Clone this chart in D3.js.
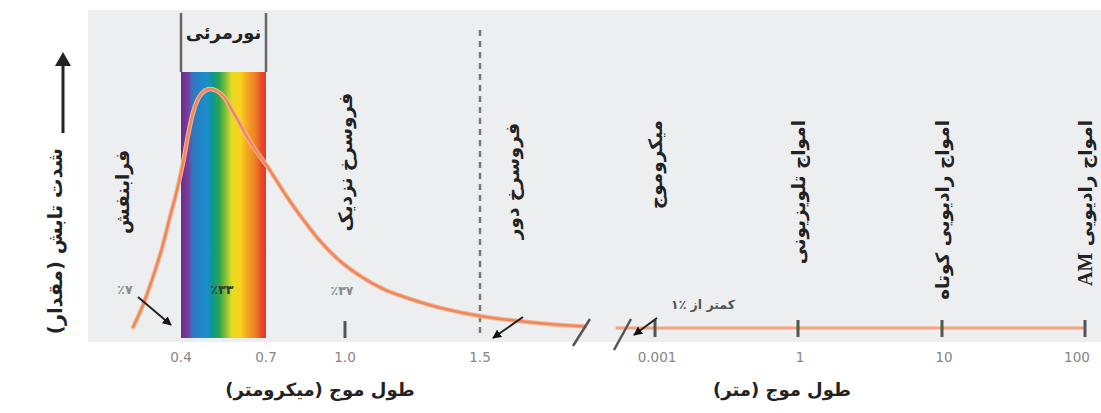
<!DOCTYPE html>
<html>
<head>
<meta charset="utf-8">
<script src="https://cdn.jsdelivr.net/npm/d3@7"></script>
<style>
  html, body { margin: 0; padding: 0; background: #ffffff; }
  svg { display: block; }
  text { font-family: "DejaVu Sans", sans-serif; }
</style>
</head>
<body>
<script>
// ---------- data ----------
const micronTicks = [0.4, 0.7, 1.0, 1.5];
const micronTickLabels = ["0.4", "0.7", "1.0", "1.5"];
const meterTicks = [0.001, 1, 10, 100];
const meterTickLabels = ["0.001", "1", "10", "100"];

// radiation intensity curve (wavelength in micrometers, relative intensity)
const curveWavelength = [0.231, 0.266, 0.301, 0.333, 0.361, 0.386, 0.407, 0.425, 0.442, 0.460, 0.478, 0.502, 0.527, 0.555, 0.584, 0.608, 0.633, 0.668, 0.704, 0.780, 0.848, 0.905, 0.981, 1.056, 1.141, 1.241, 1.326, 1.50, 1.696, 1.889];
const curveIntensity  = [0.4,   9.6,   21.3,  33.3,  46.3,  57.5,  68.8,  80.4,  89.6,  95.4,  98.3,  99.6,  98.8,  95.8,  90,    85,    79.6,  73.3,  67.5,  54.6,  44.2,  36.3,  27.9,  21.7,  16.3,  12.1,  9.2,   5,    2.3,   0.6];

// long-wavelength part (wavelength in meters, relative intensity)
const rightWavelength = [0.00015, 0.001, 1, 10, 100];
const rightIntensity  = [0, 0, 0, 0, 0];

const visibleBand = [0.4, 0.7];
const visibleLabel = "نورمرئی";
const micronBandNames = ["فرابنفش", "فروسرخ نزدیک", "فروسرخ دور"];
const micronBandCenters = [0.195, 1.0, 1.62];
const meterBandNames = ["میکروموج", "امواج تلویزیونی", "امواج رادیویی کوتاه", "امواج رادیویی AM"];
const percentLabels = ["٪۷", "٪۳۳", "٪۳۷", "کمتر از ٪۱"];
const yTitle = "شدت تابش (مقدار)";
const xTitleMicron = "طول موج (میکرومتر)";
const xTitleMeter = "طول موج (متر)";

// ---------- layout ----------
const W = 1101, H = 413;
const svg = d3.select("body").append("svg").attr("width", W).attr("height", H);

const x = d3.scaleLinear().domain(micronTicks).range([181, 266, 345, 480]);
const xm = d3.scaleLinear().domain(meterTicks.map(Math.log10)).range([655, 798, 942, 1085]);
const y = d3.scaleLinear().domain([0, 100]).range([328, 88]);

const defs = svg.append("defs");
const grad = defs.append("linearGradient").attr("id", "rainbow")
  .attr("x1", "0%").attr("x2", "100%").attr("y1", "0%").attr("y2", "0%");
[["0%", "#6a2d8c"], ["8%", "#7b3b9b"], ["14%", "#2f78c0"], ["30%", "#1a8fcb"], ["38%", "#10998c"],
 ["45%", "#2ea44c"], ["52%", "#7dbd3a"], ["60%", "#e6dc22"], ["70%", "#f8d31a"], ["78%", "#f5a526"],
 ["88%", "#f07b24"], ["95%", "#e5472b"], ["100%", "#d83c2a"]]
  .forEach(([o, c]) => grad.append("stop").attr("offset", o).attr("stop-color", c));

const arrowM = defs.append("marker").attr("id", "ah").attr("viewBox", "0 0 10 10")
  .attr("refX", 9).attr("refY", 5).attr("markerWidth", 4.5).attr("markerHeight", 4.5)
  .attr("orient", "auto").attr("markerUnits", "strokeWidth");
arrowM.append("path").attr("d", "M0,0 L10,5 L0,10 z").attr("fill", "#111");

// background panel
svg.append("rect").attr("x", 88).attr("y", 10).attr("width", W - 88).attr("height", 332)
  .attr("fill", "#eceef0");

// vertical arrow of y axis
svg.append("line").attr("x1", 63).attr("x2", 63).attr("y1", 133).attr("y2", 62)
  .attr("stroke", "#222").attr("stroke-width", 3);
svg.append("path").attr("d", "M63,52 L55,66 L71,66 Z").attr("fill", "#222");

svg.append("text")
  .attr("transform", "translate(55,148) rotate(-90)")
  .attr("direction", "rtl").attr("text-anchor", "start").attr("dominant-baseline", "central")
  .attr("font-size", 19.5).attr("font-weight", "bold").attr("fill", "#222")
  .text(yTitle);

// visible spectrum
svg.append("rect").attr("x", x(visibleBand[0])).attr("y", 72)
  .attr("width", x(visibleBand[1]) - x(visibleBand[0])).attr("height", 266)
  .attr("fill", "url(#rainbow)");
visibleBand.forEach(v => {
  svg.append("line").attr("x1", x(v)).attr("x2", x(v)).attr("y1", 13).attr("y2", 72)
    .attr("stroke", "#666").attr("stroke-width", 2.5);
});
svg.append("text").attr("x", (x(visibleBand[0]) + x(visibleBand[1])) / 2).attr("y", 32)
  .attr("direction", "rtl").attr("text-anchor", "middle").attr("dominant-baseline", "central")
  .attr("font-size", 18).attr("font-weight", "bold").attr("fill", "#222").text(visibleLabel);

// dashed boundary at 1.5 micrometers
svg.append("line").attr("x1", x(1.5)).attr("x2", x(1.5)).attr("y1", 30).attr("y2", 333)
  .attr("stroke", "#777").attr("stroke-width", 2.5).attr("stroke-dasharray", "6,5");

// band labels (rotated)
const bandTops = [150, 93, 123];
micronBandNames.forEach((n, i) => {
  svg.append("text")
    .attr("transform", `translate(${x(micronBandCenters[i])},${bandTops[i]}) rotate(-90)`)
    .attr("direction", "rtl").attr("text-anchor", "start").attr("dominant-baseline", "central")
    .attr("font-size", 18.5).attr("font-weight", "bold").attr("fill", "#222").text(n);
});
meterBandNames.forEach((n, i) => {
  const t = svg.append("text")
    .attr("transform", `translate(${xm(Math.log10(meterTicks[i]))},120) rotate(-90)`)
    .attr("direction", "rtl").attr("text-anchor", "start").attr("dominant-baseline", "central")
    .attr("font-size", 18.5).attr("font-weight", "bold").attr("fill", "#222");
  const parts = n.split(/(AM)/).filter(s => s.length);
  parts.forEach(p => {
    const ts = t.append("tspan").text(p);
    if (p === "AM") ts.attr("font-family", "'Liberation Serif', serif").attr("font-size", 20);
  });
});

// curve
const line = d3.line().curve(d3.curveMonotoneX);
const curvePts = curveWavelength.map((w, i) => [x(w), y(curveIntensity[i])]);
svg.append("path").attr("d", line(curvePts)).attr("fill", "none")
  .attr("stroke", "#f6b89a").attr("stroke-width", 4.5).attr("stroke-linecap", "round");
svg.append("path").attr("d", line(curvePts)).attr("fill", "none")
  .attr("stroke", "#ee875a").attr("stroke-width", 2.5).attr("stroke-linecap", "round");

const rightPts = rightWavelength.map((w, i) => [xm(Math.log10(w)), y(rightIntensity[i])]);
svg.append("path").attr("d", d3.line()(rightPts)).attr("fill", "none")
  .attr("stroke", "#f3a27c").attr("stroke-width", 3);

// ticks
svg.append("line").attr("x1", x(1.0)).attr("x2", x(1.0)).attr("y1", 321).attr("y2", 338)
  .attr("stroke", "#555").attr("stroke-width", 3);
meterTicks.forEach(t => {
  svg.append("line").attr("x1", xm(Math.log10(t))).attr("x2", xm(Math.log10(t)))
    .attr("y1", 320).attr("y2", 337).attr("stroke", "#555").attr("stroke-width", 3);
});

// axis breaks
[[573, 346, 590, 319], [614, 350, 631, 319]].forEach(s => {
  svg.append("line").attr("x1", s[0]).attr("y1", s[1]).attr("x2", s[2]).attr("y2", s[3])
    .attr("stroke", "#555").attr("stroke-width", 2.5);
});

// tick labels
micronTicks.forEach((t, i) => {
  svg.append("text").attr("x", x(t)).attr("y", 357).attr("text-anchor", "middle")
    .attr("dominant-baseline", "central").attr("font-size", 13.5).attr("fill", "#858585")
    .text(micronTickLabels[i]);
});
meterTicks.forEach((t, i) => {
  svg.append("text").attr("x", xm(Math.log10(t)) + (i === 3 ? -8 : 2)).attr("y", 357)
    .attr("text-anchor", "middle").attr("dominant-baseline", "central")
    .attr("font-size", 13.5).attr("fill", "#858585").text(meterTickLabels[i]);
});

// axis titles
svg.append("text").attr("x", 320).attr("y", 389).attr("direction", "rtl")
  .attr("text-anchor", "middle").attr("dominant-baseline", "central")
  .attr("font-size", 18).attr("font-weight", "bold").attr("fill", "#222").text(xTitleMicron);
svg.append("text").attr("x", 782).attr("y", 389).attr("direction", "rtl")
  .attr("text-anchor", "middle").attr("dominant-baseline", "central")
  .attr("font-size", 18).attr("font-weight", "bold").attr("fill", "#222").text(xTitleMeter);

// percent annotations
const pctPos = [[125, 289, "#8a8a8a"], [222, 289, "#2b3b2e"], [342, 290, "#8a8a8a"], [703, 304, "#555"]];
percentLabels.forEach((p, i) => {
  svg.append("text").attr("x", pctPos[i][0]).attr("y", pctPos[i][1])
    .attr("direction", "rtl").attr("text-anchor", "middle").attr("dominant-baseline", "central")
    .attr("font-size", 12.5).attr("font-weight", "bold").attr("fill", pctPos[i][2]).text(p);
});

// pointer arrows
[[138, 297, 171, 325], [523, 317, 493, 338], [657, 318, 634, 335]].forEach(a => {
  svg.append("line").attr("x1", a[0]).attr("y1", a[1]).attr("x2", a[2]).attr("y2", a[3])
    .attr("stroke", "#222").attr("stroke-width", 2).attr("marker-end", "url(#ah)");
});
</script>
</body>
</html>
